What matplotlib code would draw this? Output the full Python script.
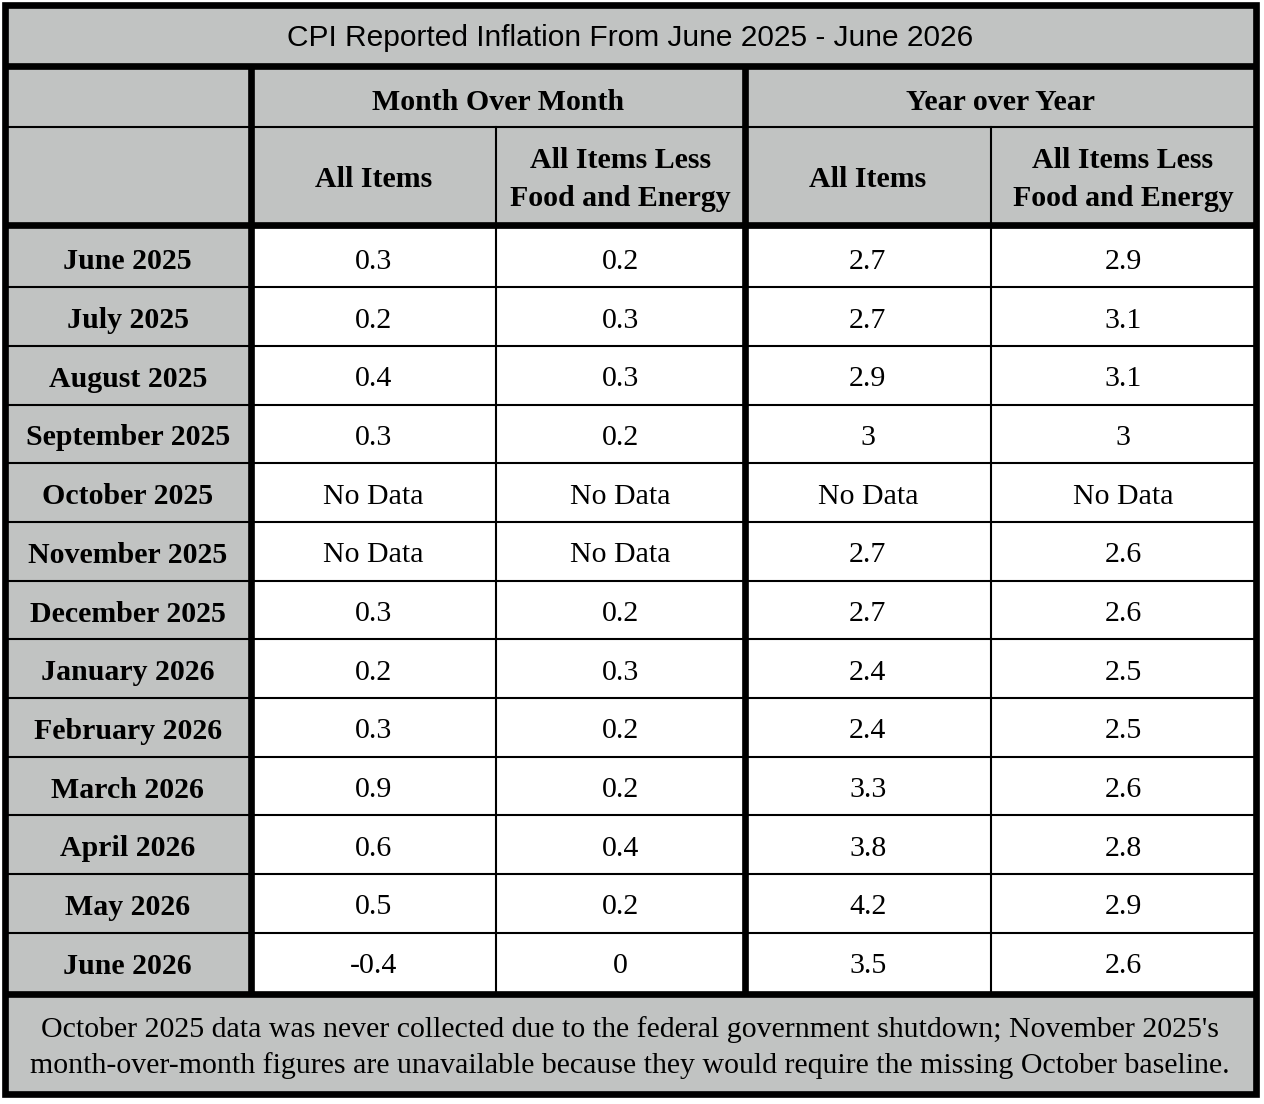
import matplotlib.pyplot as plt
from matplotlib.patches import Rectangle

title = "CPI Reported Inflation From June 2025 - June 2026"
groups = ["Month Over Month", "Year over Year"]
sub_heads = ["All Items", "All Items Less\nFood and Energy", "All Items", "All Items Less\nFood and Energy"]
months = ["June 2025", "July 2025", "August 2025", "September 2025", "October 2025",
          "November 2025", "December 2025", "January 2026", "February 2026",
          "March 2026", "April 2026", "May 2026", "June 2026"]
# None = no data
mom_all = [0.3, 0.2, 0.4, 0.3, None, None, 0.3, 0.2, 0.3, 0.9, 0.6, 0.5, -0.4]
mom_core = [0.2, 0.3, 0.3, 0.2, None, None, 0.2, 0.3, 0.2, 0.2, 0.4, 0.2, 0]
yoy_all = [2.7, 2.7, 2.9, 3, None, 2.7, 2.7, 2.4, 2.4, 3.3, 3.8, 4.2, 3.5]
yoy_core = [2.9, 3.1, 3.1, 3, None, 2.6, 2.6, 2.5, 2.5, 2.6, 2.8, 2.9, 2.6]
footnote = ("October 2025 data was never collected due to the federal government shutdown; November 2025's\n"
            "month-over-month figures are unavailable because they would require the missing October baseline.")

gray = '#c1c3c2'
serif = 'Liberation Serif'
fs = 21.5
thin = 1.5
thick = 4.8

# layout in pixels
W, H = 1264, 1104
L, R, T, B = 5, 1255.5, 4.5, 1093.5
cols = [L, 250.5, 496, 745, 990.5, R]
y_title = 66
y_h1 = 126.5
y_h2 = 225
y_data_top, y_data_bot = 228.5, 991.5
y_foot = 994
n = len(months)
rh = (y_data_bot - y_data_top) / n
row_edges = [y_data_top + i * rh for i in range(n + 1)]

fig = plt.figure(figsize=(W / 100, H / 100), dpi=100)
ax = fig.add_axes([0, 0, 1, 1])
ax.set_xlim(0, W)
ax.set_ylim(H, 0)
ax.axis('off')

# backgrounds
ax.add_patch(Rectangle((L, T), R - L, B - T, facecolor=gray, edgecolor='none'))
ax.add_patch(Rectangle((cols[1], y_data_top), R - cols[1], y_data_bot - y_data_top,
                       facecolor='white', edgecolor='none'))

# title
ax.text((L + R) / 2, (T + y_title) / 2 + 3, title, ha='center', va='center',
        fontsize=fs, family='Liberation Sans')

# group headers
for i, g in enumerate(groups):
    x0, x1 = cols[1 + 2 * i], cols[3 + 2 * i]
    ax.text((x0 + x1) / 2, (y_title + y_h1) / 2 + 6, g, ha='center', va='center',
            fontsize=fs, family=serif, fontweight='bold')
for i, s in enumerate(sub_heads):
    ax.text((cols[1 + i] + cols[2 + i]) / 2, (y_h1 + y_h2) / 2 + 4, s, ha='center', va='center',
            fontsize=fs, family=serif, fontweight='bold', linespacing=1.5)

# body
series = [mom_all, mom_core, yoy_all, yoy_core]
for r, m in enumerate(months):
    yc = (row_edges[r] + row_edges[r + 1]) / 2 + 4
    ax.text((cols[0] + cols[1]) / 2, yc, m, ha='center', va='center',
            fontsize=fs, family=serif, fontweight='bold')
    for c, vals in enumerate(series):
        v = vals[r]
        txt = "No Data" if v is None else f"{v:g}"
        ax.text((cols[1 + c] + cols[2 + c]) / 2, yc, txt, ha='center', va='center',
                fontsize=fs, family=serif)

ax.text((L + R) / 2, (y_foot + B) / 2 + 4, footnote, ha='center', va='center',
        fontsize=fs, family=serif, linespacing=1.45)

# grid lines
for y in row_edges[1:-1]:
    ax.plot([L, R], [y, y], color='black', lw=thin)
ax.plot([L, R], [y_h1, y_h1], color='black', lw=thin)
for x in [cols[2], cols[4]]:
    ax.plot([x, x], [y_h1, y_data_bot], color='black', lw=thin)
for y in [y_title, y_h2, y_foot]:
    ax.plot([L, R], [y, y], color='black', lw=thick, solid_capstyle='butt')
for x in [cols[1], cols[3]]:
    ax.plot([x, x], [y_title, y_foot], color='black', lw=thick, solid_capstyle='butt')
ax.add_patch(Rectangle((L, T), R - L, B - T, facecolor='none', edgecolor='black',
                       lw=thick, joinstyle='miter'))

fig.savefig('out.png', dpi=100)
